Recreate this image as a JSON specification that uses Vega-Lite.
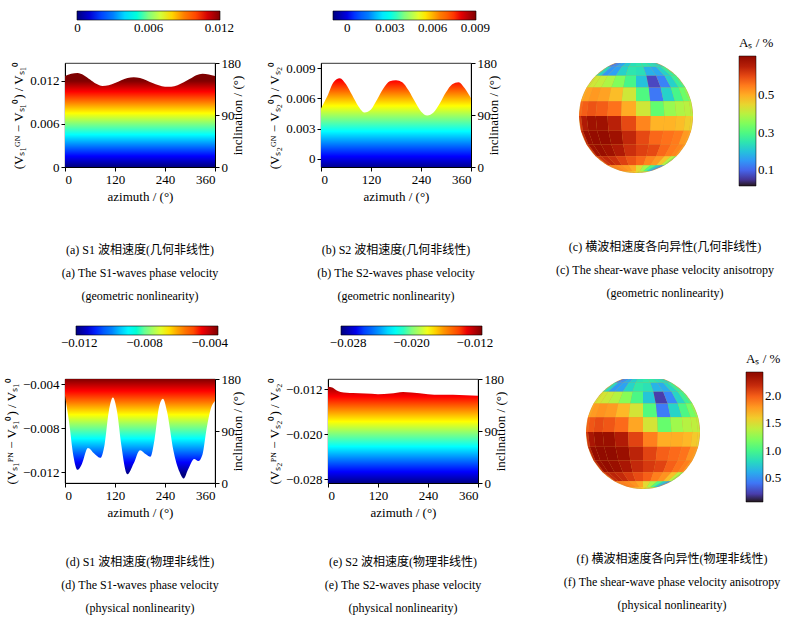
{
  "$schema": "https://vega.github.io/schema/vega-lite/v6.json",
  "padding": {"top": 10, "left": 5, "right": 5, "bottom": 5},
  "spacing": 22,
  "resolve": {"scale": {"color": "independent"}, "legend": {"color": "independent"}},
  "config": {
    "font": "Liberation Serif",
    "view": {"stroke": "#000", "strokeWidth": 0.8},
    "axis": {"grid": false, "domainColor": "#000", "tickColor": "#000", "labelColor": "#000", "titleColor": "#000", "labelFont": "Liberation Serif", "titleFont": "Liberation Serif", "labelFontSize": 13, "titleFontSize": 13, "titleFontWeight": "normal", "tickSize": 4},
    "legend": {"labelFont": "Liberation Serif", "labelFontSize": 13, "labelColor": "#000", "titleFont": "Liberation Serif", "titleFontSize": 13, "titleFontWeight": "normal", "titleColor": "#000", "labelOverlap": false},
    "title": {"font": "Liberation Serif, Noto Sans CJK SC", "fontSize": 12, "fontWeight": "normal", "color": "#000", "lineHeight": 23, "orient": "bottom", "anchor": "middle", "frame": "group"}
  },
  "datasets": {
    "sphere": [
      {"type":"Feature","properties":{"c":0.17,"f":0.60},"geometry":{"type":"Polygon","coordinates":[[[-90,75],[-90,90],[-75,90],[-75,75],[-90,75]]]}},
      {"type":"Feature","properties":{"c":0.18,"f":0.63},"geometry":{"type":"Polygon","coordinates":[[[-75,75],[-75,90],[-60,90],[-60,75],[-75,75]]]}},
      {"type":"Feature","properties":{"c":0.19,"f":0.67},"geometry":{"type":"Polygon","coordinates":[[[-60,75],[-60,90],[-45,90],[-45,75],[-60,75]]]}},
      {"type":"Feature","properties":{"c":0.21,"f":0.74},"geometry":{"type":"Polygon","coordinates":[[[-45,75],[-45,90],[-30,90],[-30,75],[-45,75]]]}},
      {"type":"Feature","properties":{"c":0.22,"f":0.77},"geometry":{"type":"Polygon","coordinates":[[[-30,75],[-30,90],[-15,90],[-15,75],[-30,75]]]}},
      {"type":"Feature","properties":{"c":0.24,"f":0.84},"geometry":{"type":"Polygon","coordinates":[[[-15,75],[-15,90],[0,90],[0,75],[-15,75]]]}},
      {"type":"Feature","properties":{"c":0.25,"f":0.88},"geometry":{"type":"Polygon","coordinates":[[[0,75],[0,90],[15,90],[15,75],[0,75]]]}},
      {"type":"Feature","properties":{"c":0.25,"f":0.88},"geometry":{"type":"Polygon","coordinates":[[[15,75],[15,90],[30,90],[30,75],[15,75]]]}},
      {"type":"Feature","properties":{"c":0.25,"f":0.88},"geometry":{"type":"Polygon","coordinates":[[[30,75],[30,90],[45,90],[45,75],[30,75]]]}},
      {"type":"Feature","properties":{"c":0.25,"f":0.88},"geometry":{"type":"Polygon","coordinates":[[[45,75],[45,90],[60,90],[60,75],[45,75]]]}},
      {"type":"Feature","properties":{"c":0.24,"f":0.84},"geometry":{"type":"Polygon","coordinates":[[[60,75],[60,90],[75,90],[75,75],[60,75]]]}},
      {"type":"Feature","properties":{"c":0.24,"f":0.84},"geometry":{"type":"Polygon","coordinates":[[[75,75],[75,90],[90,90],[90,75],[75,75]]]}},
      {"type":"Feature","properties":{"c":0.11,"f":0.39},"geometry":{"type":"Polygon","coordinates":[[[-90,60],[-90,75],[-75,75],[-75,60],[-90,60]]]}},
      {"type":"Feature","properties":{"c":0.12,"f":0.42},"geometry":{"type":"Polygon","coordinates":[[[-75,60],[-75,75],[-60,75],[-60,60],[-75,60]]]}},
      {"type":"Feature","properties":{"c":0.14,"f":0.49},"geometry":{"type":"Polygon","coordinates":[[[-60,60],[-60,75],[-45,75],[-45,60],[-60,60]]]}},
      {"type":"Feature","properties":{"c":0.17,"f":0.60},"geometry":{"type":"Polygon","coordinates":[[[-45,60],[-45,75],[-30,75],[-30,60],[-45,60]]]}},
      {"type":"Feature","properties":{"c":0.21,"f":0.74},"geometry":{"type":"Polygon","coordinates":[[[-30,60],[-30,75],[-15,75],[-15,60],[-30,60]]]}},
      {"type":"Feature","properties":{"c":0.24,"f":0.84},"geometry":{"type":"Polygon","coordinates":[[[-15,60],[-15,75],[0,75],[0,60],[-15,60]]]}},
      {"type":"Feature","properties":{"c":0.25,"f":0.88},"geometry":{"type":"Polygon","coordinates":[[[0,60],[0,75],[15,75],[15,60],[0,60]]]}},
      {"type":"Feature","properties":{"c":0.25,"f":0.88},"geometry":{"type":"Polygon","coordinates":[[[15,60],[15,75],[30,75],[30,60],[15,60]]]}},
      {"type":"Feature","properties":{"c":0.24,"f":0.84},"geometry":{"type":"Polygon","coordinates":[[[30,60],[30,75],[45,75],[45,60],[30,60]]]}},
      {"type":"Feature","properties":{"c":0.23,"f":0.81},"geometry":{"type":"Polygon","coordinates":[[[45,60],[45,75],[60,75],[60,60],[45,60]]]}},
      {"type":"Feature","properties":{"c":0.22,"f":0.77},"geometry":{"type":"Polygon","coordinates":[[[60,60],[60,75],[75,75],[75,60],[60,60]]]}},
      {"type":"Feature","properties":{"c":0.21,"f":0.74},"geometry":{"type":"Polygon","coordinates":[[[75,60],[75,75],[90,75],[90,60],[75,60]]]}},
      {"type":"Feature","properties":{"c":0.25,"f":0.88},"geometry":{"type":"Polygon","coordinates":[[[-90,45],[-90,60],[-75,60],[-75,45],[-90,45]]]}},
      {"type":"Feature","properties":{"c":0.22,"f":0.77},"geometry":{"type":"Polygon","coordinates":[[[-75,45],[-75,60],[-60,60],[-60,45],[-75,45]]]}},
      {"type":"Feature","properties":{"c":0.15,"f":0.53},"geometry":{"type":"Polygon","coordinates":[[[-60,45],[-60,60],[-45,60],[-45,45],[-60,45]]]}},
      {"type":"Feature","properties":{"c":0.16,"f":0.56},"geometry":{"type":"Polygon","coordinates":[[[-45,45],[-45,60],[-30,60],[-30,45],[-45,45]]]}},
      {"type":"Feature","properties":{"c":0.22,"f":0.77},"geometry":{"type":"Polygon","coordinates":[[[-30,45],[-30,60],[-15,60],[-15,45],[-30,45]]]}},
      {"type":"Feature","properties":{"c":0.25,"f":0.88},"geometry":{"type":"Polygon","coordinates":[[[-15,45],[-15,60],[0,60],[0,45],[-15,45]]]}},
      {"type":"Feature","properties":{"c":0.24,"f":0.84},"geometry":{"type":"Polygon","coordinates":[[[0,45],[0,60],[15,60],[15,45],[0,45]]]}},
      {"type":"Feature","properties":{"c":0.18,"f":0.63},"geometry":{"type":"Polygon","coordinates":[[[15,45],[15,60],[30,60],[30,45],[15,45]]]}},
      {"type":"Feature","properties":{"c":0.17,"f":0.60},"geometry":{"type":"Polygon","coordinates":[[[30,45],[30,60],[45,60],[45,45],[30,45]]]}},
      {"type":"Feature","properties":{"c":0.22,"f":0.77},"geometry":{"type":"Polygon","coordinates":[[[45,45],[45,60],[60,60],[60,45],[45,45]]]}},
      {"type":"Feature","properties":{"c":0.26,"f":0.91},"geometry":{"type":"Polygon","coordinates":[[[60,45],[60,60],[75,60],[75,45],[60,45]]]}},
      {"type":"Feature","properties":{"c":0.28,"f":0.98},"geometry":{"type":"Polygon","coordinates":[[[75,45],[75,60],[90,60],[90,45],[75,45]]]}},
      {"type":"Feature","properties":{"c":0.42,"f":1.47},"geometry":{"type":"Polygon","coordinates":[[[-90,30],[-90,45],[-75,45],[-75,30],[-90,30]]]}},
      {"type":"Feature","properties":{"c":0.42,"f":1.47},"geometry":{"type":"Polygon","coordinates":[[[-75,30],[-75,45],[-60,45],[-60,30],[-75,30]]]}},
      {"type":"Feature","properties":{"c":0.41,"f":1.44},"geometry":{"type":"Polygon","coordinates":[[[-60,30],[-60,45],[-45,45],[-45,30],[-60,30]]]}},
      {"type":"Feature","properties":{"c":0.39,"f":1.37},"geometry":{"type":"Polygon","coordinates":[[[-45,30],[-45,45],[-30,45],[-30,30],[-45,30]]]}},
      {"type":"Feature","properties":{"c":0.35,"f":1.23},"geometry":{"type":"Polygon","coordinates":[[[-30,30],[-30,45],[-15,45],[-15,30],[-30,30]]]}},
      {"type":"Feature","properties":{"c":0.29,"f":1.02},"geometry":{"type":"Polygon","coordinates":[[[-15,30],[-15,45],[0,45],[0,30],[-15,30]]]}},
      {"type":"Feature","properties":{"c":0.20,"f":0.70},"geometry":{"type":"Polygon","coordinates":[[[0,30],[0,45],[15,45],[15,30],[0,30]]]}},
      {"type":"Feature","properties":{"c":0.07,"f":0.20},"geometry":{"type":"Polygon","coordinates":[[[15,30],[15,45],[30,45],[30,30],[15,30]]]}},
      {"type":"Feature","properties":{"c":0.13,"f":0.46},"geometry":{"type":"Polygon","coordinates":[[[30,30],[30,45],[45,45],[45,30],[30,30]]]}},
      {"type":"Feature","properties":{"c":0.22,"f":0.77},"geometry":{"type":"Polygon","coordinates":[[[45,30],[45,45],[60,45],[60,30],[45,30]]]}},
      {"type":"Feature","properties":{"c":0.27,"f":0.95},"geometry":{"type":"Polygon","coordinates":[[[60,30],[60,45],[75,45],[75,30],[60,30]]]}},
      {"type":"Feature","properties":{"c":0.29,"f":1.02},"geometry":{"type":"Polygon","coordinates":[[[75,30],[75,45],[90,45],[90,30],[75,30]]]}},
      {"type":"Feature","properties":{"c":0.50,"f":1.75},"geometry":{"type":"Polygon","coordinates":[[[-90,15],[-90,30],[-75,30],[-75,15],[-90,15]]]}},
      {"type":"Feature","properties":{"c":0.51,"f":1.79},"geometry":{"type":"Polygon","coordinates":[[[-75,15],[-75,30],[-60,30],[-60,15],[-75,15]]]}},
      {"type":"Feature","properties":{"c":0.52,"f":1.82},"geometry":{"type":"Polygon","coordinates":[[[-60,15],[-60,30],[-45,30],[-45,15],[-60,15]]]}},
      {"type":"Feature","properties":{"c":0.51,"f":1.79},"geometry":{"type":"Polygon","coordinates":[[[-45,15],[-45,30],[-30,30],[-30,15],[-45,15]]]}},
      {"type":"Feature","properties":{"c":0.48,"f":1.68},"geometry":{"type":"Polygon","coordinates":[[[-30,15],[-30,30],[-15,30],[-15,15],[-30,15]]]}},
      {"type":"Feature","properties":{"c":0.42,"f":1.47},"geometry":{"type":"Polygon","coordinates":[[[-15,15],[-15,30],[0,30],[0,15],[-15,15]]]}},
      {"type":"Feature","properties":{"c":0.30,"f":1.05},"geometry":{"type":"Polygon","coordinates":[[[0,15],[0,30],[15,30],[15,15],[0,15]]]}},
      {"type":"Feature","properties":{"c":0.12,"f":0.42},"geometry":{"type":"Polygon","coordinates":[[[15,15],[15,30],[30,30],[30,15],[15,15]]]}},
      {"type":"Feature","properties":{"c":0.22,"f":0.77},"geometry":{"type":"Polygon","coordinates":[[[30,15],[30,30],[45,30],[45,15],[30,15]]]}},
      {"type":"Feature","properties":{"c":0.29,"f":1.02},"geometry":{"type":"Polygon","coordinates":[[[45,15],[45,30],[60,30],[60,15],[45,15]]]}},
      {"type":"Feature","properties":{"c":0.33,"f":1.16},"geometry":{"type":"Polygon","coordinates":[[[60,15],[60,30],[75,30],[75,15],[60,15]]]}},
      {"type":"Feature","properties":{"c":0.35,"f":1.23},"geometry":{"type":"Polygon","coordinates":[[[75,15],[75,30],[90,30],[90,15],[75,15]]]}},
      {"type":"Feature","properties":{"c":0.57,"f":2.00},"geometry":{"type":"Polygon","coordinates":[[[-90,0],[-90,15],[-75,15],[-75,0],[-90,0]]]}},
      {"type":"Feature","properties":{"c":0.58,"f":2.03},"geometry":{"type":"Polygon","coordinates":[[[-75,0],[-75,15],[-60,15],[-60,0],[-75,0]]]}},
      {"type":"Feature","properties":{"c":0.59,"f":2.07},"geometry":{"type":"Polygon","coordinates":[[[-60,0],[-60,15],[-45,15],[-45,0],[-60,0]]]}},
      {"type":"Feature","properties":{"c":0.58,"f":2.03},"geometry":{"type":"Polygon","coordinates":[[[-45,0],[-45,15],[-30,15],[-30,0],[-45,0]]]}},
      {"type":"Feature","properties":{"c":0.56,"f":1.96},"geometry":{"type":"Polygon","coordinates":[[[-30,0],[-30,15],[-15,15],[-15,0],[-30,0]]]}},
      {"type":"Feature","properties":{"c":0.50,"f":1.75},"geometry":{"type":"Polygon","coordinates":[[[-15,0],[-15,15],[0,15],[0,0],[-15,0]]]}},
      {"type":"Feature","properties":{"c":0.42,"f":1.47},"geometry":{"type":"Polygon","coordinates":[[[0,0],[0,15],[15,15],[15,0],[0,0]]]}},
      {"type":"Feature","properties":{"c":0.32,"f":1.12},"geometry":{"type":"Polygon","coordinates":[[[15,0],[15,15],[30,15],[30,0],[15,0]]]}},
      {"type":"Feature","properties":{"c":0.37,"f":1.30},"geometry":{"type":"Polygon","coordinates":[[[30,0],[30,15],[45,15],[45,0],[30,0]]]}},
      {"type":"Feature","properties":{"c":0.39,"f":1.37},"geometry":{"type":"Polygon","coordinates":[[[45,0],[45,15],[60,15],[60,0],[45,0]]]}},
      {"type":"Feature","properties":{"c":0.40,"f":1.40},"geometry":{"type":"Polygon","coordinates":[[[60,0],[60,15],[75,15],[75,0],[60,0]]]}},
      {"type":"Feature","properties":{"c":0.40,"f":1.40},"geometry":{"type":"Polygon","coordinates":[[[75,0],[75,15],[90,15],[90,0],[75,0]]]}},
      {"type":"Feature","properties":{"c":0.62,"f":2.17},"geometry":{"type":"Polygon","coordinates":[[[-90,-15],[-90,0],[-75,0],[-75,-15],[-90,-15]]]}},
      {"type":"Feature","properties":{"c":0.66,"f":2.31},"geometry":{"type":"Polygon","coordinates":[[[-75,-15],[-75,0],[-60,0],[-60,-15],[-75,-15]]]}},
      {"type":"Feature","properties":{"c":0.68,"f":2.38},"geometry":{"type":"Polygon","coordinates":[[[-60,-15],[-60,0],[-45,0],[-45,-15],[-60,-15]]]}},
      {"type":"Feature","properties":{"c":0.68,"f":2.38},"geometry":{"type":"Polygon","coordinates":[[[-45,-15],[-45,0],[-30,0],[-30,-15],[-45,-15]]]}},
      {"type":"Feature","properties":{"c":0.65,"f":2.28},"geometry":{"type":"Polygon","coordinates":[[[-30,-15],[-30,0],[-15,0],[-15,-15],[-30,-15]]]}},
      {"type":"Feature","properties":{"c":0.60,"f":2.10},"geometry":{"type":"Polygon","coordinates":[[[-15,-15],[-15,0],[0,0],[0,-15],[-15,-15]]]}},
      {"type":"Feature","properties":{"c":0.54,"f":1.89},"geometry":{"type":"Polygon","coordinates":[[[0,-15],[0,0],[15,0],[15,-15],[0,-15]]]}},
      {"type":"Feature","properties":{"c":0.49,"f":1.72},"geometry":{"type":"Polygon","coordinates":[[[15,-15],[15,0],[30,0],[30,-15],[15,-15]]]}},
      {"type":"Feature","properties":{"c":0.49,"f":1.72},"geometry":{"type":"Polygon","coordinates":[[[30,-15],[30,0],[45,0],[45,-15],[30,-15]]]}},
      {"type":"Feature","properties":{"c":0.48,"f":1.68},"geometry":{"type":"Polygon","coordinates":[[[45,-15],[45,0],[60,0],[60,-15],[45,-15]]]}},
      {"type":"Feature","properties":{"c":0.46,"f":1.61},"geometry":{"type":"Polygon","coordinates":[[[60,-15],[60,0],[75,0],[75,-15],[60,-15]]]}},
      {"type":"Feature","properties":{"c":0.45,"f":1.58},"geometry":{"type":"Polygon","coordinates":[[[75,-15],[75,0],[90,0],[90,-15],[75,-15]]]}},
      {"type":"Feature","properties":{"c":0.64,"f":2.24},"geometry":{"type":"Polygon","coordinates":[[[-90,-30],[-90,-15],[-75,-15],[-75,-30],[-90,-30]]]}},
      {"type":"Feature","properties":{"c":0.69,"f":2.42},"geometry":{"type":"Polygon","coordinates":[[[-75,-30],[-75,-15],[-60,-15],[-60,-30],[-75,-30]]]}},
      {"type":"Feature","properties":{"c":0.70,"f":2.45},"geometry":{"type":"Polygon","coordinates":[[[-60,-30],[-60,-15],[-45,-15],[-45,-30],[-60,-30]]]}},
      {"type":"Feature","properties":{"c":0.70,"f":2.45},"geometry":{"type":"Polygon","coordinates":[[[-45,-30],[-45,-15],[-30,-15],[-30,-30],[-45,-30]]]}},
      {"type":"Feature","properties":{"c":0.68,"f":2.38},"geometry":{"type":"Polygon","coordinates":[[[-30,-30],[-30,-15],[-15,-15],[-15,-30],[-30,-30]]]}},
      {"type":"Feature","properties":{"c":0.64,"f":2.24},"geometry":{"type":"Polygon","coordinates":[[[-15,-30],[-15,-15],[0,-15],[0,-30],[-15,-30]]]}},
      {"type":"Feature","properties":{"c":0.60,"f":2.10},"geometry":{"type":"Polygon","coordinates":[[[0,-30],[0,-15],[15,-15],[15,-30],[0,-30]]]}},
      {"type":"Feature","properties":{"c":0.57,"f":2.00},"geometry":{"type":"Polygon","coordinates":[[[15,-30],[15,-15],[30,-15],[30,-30],[15,-30]]]}},
      {"type":"Feature","properties":{"c":0.56,"f":1.96},"geometry":{"type":"Polygon","coordinates":[[[30,-30],[30,-15],[45,-15],[45,-30],[30,-30]]]}},
      {"type":"Feature","properties":{"c":0.55,"f":1.93},"geometry":{"type":"Polygon","coordinates":[[[45,-30],[45,-15],[60,-15],[60,-30],[45,-30]]]}},
      {"type":"Feature","properties":{"c":0.52,"f":1.82},"geometry":{"type":"Polygon","coordinates":[[[60,-30],[60,-15],[75,-15],[75,-30],[60,-30]]]}},
      {"type":"Feature","properties":{"c":0.51,"f":1.79},"geometry":{"type":"Polygon","coordinates":[[[75,-30],[75,-15],[90,-15],[90,-30],[75,-30]]]}},
      {"type":"Feature","properties":{"c":0.63,"f":2.21},"geometry":{"type":"Polygon","coordinates":[[[-90,-45],[-90,-30],[-75,-30],[-75,-45],[-90,-45]]]}},
      {"type":"Feature","properties":{"c":0.68,"f":2.38},"geometry":{"type":"Polygon","coordinates":[[[-75,-45],[-75,-30],[-60,-30],[-60,-45],[-75,-45]]]}},
      {"type":"Feature","properties":{"c":0.69,"f":2.42},"geometry":{"type":"Polygon","coordinates":[[[-60,-45],[-60,-30],[-45,-30],[-45,-45],[-60,-45]]]}},
      {"type":"Feature","properties":{"c":0.68,"f":2.38},"geometry":{"type":"Polygon","coordinates":[[[-45,-45],[-45,-30],[-30,-30],[-30,-45],[-45,-45]]]}},
      {"type":"Feature","properties":{"c":0.66,"f":2.31},"geometry":{"type":"Polygon","coordinates":[[[-30,-45],[-30,-30],[-15,-30],[-15,-45],[-30,-45]]]}},
      {"type":"Feature","properties":{"c":0.63,"f":2.21},"geometry":{"type":"Polygon","coordinates":[[[-15,-45],[-15,-30],[0,-30],[0,-45],[-15,-45]]]}},
      {"type":"Feature","properties":{"c":0.61,"f":2.14},"geometry":{"type":"Polygon","coordinates":[[[0,-45],[0,-30],[15,-30],[15,-45],[0,-45]]]}},
      {"type":"Feature","properties":{"c":0.60,"f":2.10},"geometry":{"type":"Polygon","coordinates":[[[15,-45],[15,-30],[30,-30],[30,-45],[15,-45]]]}},
      {"type":"Feature","properties":{"c":0.57,"f":2.00},"geometry":{"type":"Polygon","coordinates":[[[30,-45],[30,-30],[45,-30],[45,-45],[30,-45]]]}},
      {"type":"Feature","properties":{"c":0.55,"f":1.93},"geometry":{"type":"Polygon","coordinates":[[[45,-45],[45,-30],[60,-30],[60,-45],[45,-45]]]}},
      {"type":"Feature","properties":{"c":0.54,"f":1.89},"geometry":{"type":"Polygon","coordinates":[[[60,-45],[60,-30],[75,-30],[75,-45],[60,-45]]]}},
      {"type":"Feature","properties":{"c":0.52,"f":1.82},"geometry":{"type":"Polygon","coordinates":[[[75,-45],[75,-30],[90,-30],[90,-45],[75,-45]]]}},
      {"type":"Feature","properties":{"c":0.60,"f":2.10},"geometry":{"type":"Polygon","coordinates":[[[-90,-60],[-90,-45],[-75,-45],[-75,-60],[-90,-60]]]}},
      {"type":"Feature","properties":{"c":0.63,"f":2.21},"geometry":{"type":"Polygon","coordinates":[[[-75,-60],[-75,-45],[-60,-45],[-60,-60],[-75,-60]]]}},
      {"type":"Feature","properties":{"c":0.64,"f":2.24},"geometry":{"type":"Polygon","coordinates":[[[-60,-60],[-60,-45],[-45,-45],[-45,-60],[-60,-60]]]}},
      {"type":"Feature","properties":{"c":0.63,"f":2.21},"geometry":{"type":"Polygon","coordinates":[[[-45,-60],[-45,-45],[-30,-45],[-30,-60],[-45,-60]]]}},
      {"type":"Feature","properties":{"c":0.61,"f":2.14},"geometry":{"type":"Polygon","coordinates":[[[-30,-60],[-30,-45],[-15,-45],[-15,-60],[-30,-60]]]}},
      {"type":"Feature","properties":{"c":0.59,"f":2.07},"geometry":{"type":"Polygon","coordinates":[[[-15,-60],[-15,-45],[0,-45],[0,-60],[-15,-60]]]}},
      {"type":"Feature","properties":{"c":0.57,"f":2.00},"geometry":{"type":"Polygon","coordinates":[[[0,-60],[0,-45],[15,-45],[15,-60],[0,-60]]]}},
      {"type":"Feature","properties":{"c":0.54,"f":1.89},"geometry":{"type":"Polygon","coordinates":[[[15,-60],[15,-45],[30,-45],[30,-60],[15,-60]]]}},
      {"type":"Feature","properties":{"c":0.52,"f":1.82},"geometry":{"type":"Polygon","coordinates":[[[30,-60],[30,-45],[45,-45],[45,-60],[30,-60]]]}},
      {"type":"Feature","properties":{"c":0.47,"f":1.65},"geometry":{"type":"Polygon","coordinates":[[[45,-60],[45,-45],[60,-45],[60,-60],[45,-60]]]}},
      {"type":"Feature","properties":{"c":0.40,"f":1.40},"geometry":{"type":"Polygon","coordinates":[[[60,-60],[60,-45],[75,-45],[75,-60],[60,-60]]]}},
      {"type":"Feature","properties":{"c":0.33,"f":1.16},"geometry":{"type":"Polygon","coordinates":[[[75,-60],[75,-45],[90,-45],[90,-60],[75,-60]]]}},
      {"type":"Feature","properties":{"c":0.55,"f":1.93},"geometry":{"type":"Polygon","coordinates":[[[-90,-75],[-90,-60],[-75,-60],[-75,-75],[-90,-75]]]}},
      {"type":"Feature","properties":{"c":0.55,"f":1.93},"geometry":{"type":"Polygon","coordinates":[[[-75,-75],[-75,-60],[-60,-60],[-60,-75],[-75,-75]]]}},
      {"type":"Feature","properties":{"c":0.54,"f":1.89},"geometry":{"type":"Polygon","coordinates":[[[-60,-75],[-60,-60],[-45,-60],[-45,-75],[-60,-75]]]}},
      {"type":"Feature","properties":{"c":0.53,"f":1.86},"geometry":{"type":"Polygon","coordinates":[[[-45,-75],[-45,-60],[-30,-60],[-30,-75],[-45,-75]]]}},
      {"type":"Feature","properties":{"c":0.52,"f":1.82},"geometry":{"type":"Polygon","coordinates":[[[-30,-75],[-30,-60],[-15,-60],[-15,-75],[-30,-75]]]}},
      {"type":"Feature","properties":{"c":0.50,"f":1.75},"geometry":{"type":"Polygon","coordinates":[[[-15,-75],[-15,-60],[0,-60],[0,-75],[-15,-75]]]}},
      {"type":"Feature","properties":{"c":0.44,"f":1.54},"geometry":{"type":"Polygon","coordinates":[[[0,-75],[0,-60],[15,-60],[15,-75],[0,-75]]]}},
      {"type":"Feature","properties":{"c":0.38,"f":1.33},"geometry":{"type":"Polygon","coordinates":[[[15,-75],[15,-60],[30,-60],[30,-75],[15,-75]]]}},
      {"type":"Feature","properties":{"c":0.30,"f":1.05},"geometry":{"type":"Polygon","coordinates":[[[30,-75],[30,-60],[45,-60],[45,-75],[30,-75]]]}},
      {"type":"Feature","properties":{"c":0.22,"f":0.77},"geometry":{"type":"Polygon","coordinates":[[[45,-75],[45,-60],[60,-60],[60,-75],[45,-75]]]}},
      {"type":"Feature","properties":{"c":0.16,"f":0.56},"geometry":{"type":"Polygon","coordinates":[[[60,-75],[60,-60],[75,-60],[75,-75],[60,-75]]]}},
      {"type":"Feature","properties":{"c":0.13,"f":0.46},"geometry":{"type":"Polygon","coordinates":[[[75,-75],[75,-60],[90,-60],[90,-75],[75,-75]]]}},
      {"type":"Feature","properties":{"c":0.50,"f":1.75},"geometry":{"type":"Polygon","coordinates":[[[-90,-90],[-90,-75],[-75,-75],[-75,-90],[-90,-90]]]}},
      {"type":"Feature","properties":{"c":0.50,"f":1.75},"geometry":{"type":"Polygon","coordinates":[[[-75,-90],[-75,-75],[-60,-75],[-60,-90],[-75,-90]]]}},
      {"type":"Feature","properties":{"c":0.49,"f":1.72},"geometry":{"type":"Polygon","coordinates":[[[-60,-90],[-60,-75],[-45,-75],[-45,-90],[-60,-90]]]}},
      {"type":"Feature","properties":{"c":0.49,"f":1.72},"geometry":{"type":"Polygon","coordinates":[[[-45,-90],[-45,-75],[-30,-75],[-30,-90],[-45,-90]]]}},
      {"type":"Feature","properties":{"c":0.48,"f":1.68},"geometry":{"type":"Polygon","coordinates":[[[-30,-90],[-30,-75],[-15,-75],[-15,-90],[-30,-90]]]}},
      {"type":"Feature","properties":{"c":0.47,"f":1.65},"geometry":{"type":"Polygon","coordinates":[[[-15,-90],[-15,-75],[0,-75],[0,-90],[-15,-90]]]}},
      {"type":"Feature","properties":{"c":0.45,"f":1.58},"geometry":{"type":"Polygon","coordinates":[[[0,-90],[0,-75],[15,-75],[15,-90],[0,-90]]]}},
      {"type":"Feature","properties":{"c":0.43,"f":1.51},"geometry":{"type":"Polygon","coordinates":[[[15,-90],[15,-75],[30,-75],[30,-90],[15,-90]]]}},
      {"type":"Feature","properties":{"c":0.40,"f":1.40},"geometry":{"type":"Polygon","coordinates":[[[30,-90],[30,-75],[45,-75],[45,-90],[30,-90]]]}},
      {"type":"Feature","properties":{"c":0.37,"f":1.30},"geometry":{"type":"Polygon","coordinates":[[[45,-90],[45,-75],[60,-75],[60,-90],[45,-90]]]}},
      {"type":"Feature","properties":{"c":0.34,"f":1.19},"geometry":{"type":"Polygon","coordinates":[[[60,-90],[60,-75],[75,-75],[75,-90],[60,-90]]]}},
      {"type":"Feature","properties":{"c":0.32,"f":1.12},"geometry":{"type":"Polygon","coordinates":[[[75,-90],[75,-75],[90,-75],[90,-90],[75,-90]]]}}
    ]
  },
  "vconcat": [
    {
      "spacing": 23,
      "resolve": {"scale": {"color": "independent"}, "legend": {"color": "independent"}},
      "hconcat": [
        {
          "width": 150,
          "height": 104,
          "title": {"text": ["(a) S1 波相速度(几何非线性)", "(a) The S1-waves phase velocity", "(geometric nonlinearity)"], "offset": 42},
          "layer": [
            {
              "data": {"values": [
                {"azimuth": 0, "dv": 0.0127}, {"azimuth": 15, "dv": 0.0130}, {"azimuth": 30, "dv": 0.0131}, {"azimuth": 45, "dv": 0.0128},
                {"azimuth": 60, "dv": 0.0122}, {"azimuth": 75, "dv": 0.0116}, {"azimuth": 90, "dv": 0.0113}, {"azimuth": 105, "dv": 0.0114},
                {"azimuth": 120, "dv": 0.0117}, {"azimuth": 135, "dv": 0.0121}, {"azimuth": 150, "dv": 0.0124}, {"azimuth": 165, "dv": 0.0125},
                {"azimuth": 180, "dv": 0.0124}, {"azimuth": 195, "dv": 0.0121}, {"azimuth": 210, "dv": 0.0117}, {"azimuth": 225, "dv": 0.0114},
                {"azimuth": 240, "dv": 0.0112}, {"azimuth": 255, "dv": 0.0112}, {"azimuth": 270, "dv": 0.0114}, {"azimuth": 285, "dv": 0.0118},
                {"azimuth": 300, "dv": 0.0123}, {"azimuth": 315, "dv": 0.0128}, {"azimuth": 330, "dv": 0.0130}, {"azimuth": 345, "dv": 0.0129},
                {"azimuth": 360, "dv": 0.0127}
              ]},
              "mark": {"type": "area", "interpolate": "monotone", "color": {"gradient": "linear", "x1": 0, "y1": 1, "x2": 0, "y2": 0, "stops": [
                {"offset": 0, "color": "#00007f"}, {"offset": 0.115, "color": "#0000ff"}, {"offset": 0.229, "color": "#007fff"},
                {"offset": 0.344, "color": "#00ffff"}, {"offset": 0.458, "color": "#7fff7f"}, {"offset": 0.573, "color": "#ffff00"},
                {"offset": 0.687, "color": "#ff7f00"}, {"offset": 0.802, "color": "#ff0000"}, {"offset": 0.916, "color": "#7f0000"},
                {"offset": 1, "color": "#7f0000"}]}},
              "encoding": {
                "x": {"field": "azimuth", "type": "quantitative", "scale": {"domain": [0, 360], "nice": false}, "axis": {"values": [0, 120, 240, 360], "title": "azimuth / (°)"}},
                "y": {"field": "dv", "type": "quantitative", "scale": {"domain": [0, 0.0145], "nice": false, "zero": false}, "axis": {"orient": "left", "values": [0, 0.006, 0.012], "format": ".3~f", "title": "(Vₛ₁ᴳᴺ − Vₛ₁⁰) / Vₛ₁⁰"}},
                "y2": {"datum": 0}
              }
            },
            {
              "data": {"values": [{"inclination": 0, "v": 0}, {"inclination": 180, "v": 0.012}]},
              "mark": {"type": "point", "opacity": 0},
              "encoding": {
                "y": {"field": "inclination", "type": "quantitative", "scale": {"domain": [0, 180], "nice": false}, "axis": {"orient": "right", "values": [0, 90, 180], "title": "inclination / (°)", "titleAngle": 270}},
                "color": {"field": "v", "type": "quantitative",
                  "scale": {"domain": [-0.00005, 0.0015, 0.003, 0.0045, 0.006, 0.0075, 0.009, 0.0105, 0.01205], "range": ["#00007f", "#0000ff", "#007fff", "#00ffff", "#7fff7f", "#ffff00", "#ff7f00", "#ff0000", "#7f0000"]},
                  "legend": {"type": "gradient", "orient": "none", "direction": "horizontal", "legendX": 12, "legendY": -52, "gradientLength": 143, "gradientThickness": 9, "values": [0, 0.006, 0.012], "format": ".3~f", "title": null, "gradientStrokeColor": "#000", "gradientStrokeWidth": 0.6}}
              }
            }
          ],
          "resolve": {"scale": {"y": "independent"}}
        },
        {
          "width": 150,
          "height": 104,
          "title": {"text": ["(b) S2 波相速度(几何非线性)", "(b) The S2-waves phase velocity", "(geometric nonlinearity)"], "offset": 42},
          "layer": [
            {
              "data": {"values": [
                {"azimuth": 0, "dv": 0.0050}, {"azimuth": 15, "dv": 0.0062}, {"azimuth": 30, "dv": 0.0076}, {"azimuth": 45, "dv": 0.0080},
                {"azimuth": 60, "dv": 0.0074}, {"azimuth": 75, "dv": 0.0063}, {"azimuth": 90, "dv": 0.0052}, {"azimuth": 105, "dv": 0.0046},
                {"azimuth": 120, "dv": 0.0049}, {"azimuth": 135, "dv": 0.0059}, {"azimuth": 150, "dv": 0.0070}, {"azimuth": 165, "dv": 0.0077},
                {"azimuth": 180, "dv": 0.0078}, {"azimuth": 195, "dv": 0.0076}, {"azimuth": 210, "dv": 0.0068}, {"azimuth": 225, "dv": 0.0057},
                {"azimuth": 240, "dv": 0.0047}, {"azimuth": 255, "dv": 0.0043}, {"azimuth": 270, "dv": 0.0046}, {"azimuth": 285, "dv": 0.0055},
                {"azimuth": 300, "dv": 0.0066}, {"azimuth": 315, "dv": 0.0074}, {"azimuth": 330, "dv": 0.0076}, {"azimuth": 345, "dv": 0.0070},
                {"azimuth": 360, "dv": 0.0060}
              ]},
              "mark": {"type": "area", "interpolate": "monotone", "color": {"gradient": "linear", "x1": 0, "y1": 1, "x2": 0, "y2": 0, "stops": [
                {"offset": 0, "color": "#000094"}, {"offset": 0.119, "color": "#0000ff"}, {"offset": 0.261, "color": "#007fff"},
                {"offset": 0.403, "color": "#00ffff"}, {"offset": 0.545, "color": "#7fff7f"}, {"offset": 0.688, "color": "#ffff00"},
                {"offset": 0.83, "color": "#ff7f00"}, {"offset": 0.972, "color": "#ff0000"}, {"offset": 1, "color": "#e50000"}]}},
              "encoding": {
                "x": {"field": "azimuth", "type": "quantitative", "scale": {"domain": [0, 360], "nice": false}, "axis": {"values": [0, 120, 240, 360], "title": "azimuth / (°)"}},
                "y": {"field": "dv", "type": "quantitative", "scale": {"domain": [-0.0008, 0.0095], "nice": false, "zero": false}, "axis": {"orient": "left", "values": [0, 0.003, 0.006, 0.009], "format": ".3~f", "title": "(Vₛ₂ᴳᴺ − Vₛ₂⁰) / Vₛ₂⁰"}},
                "y2": {"datum": -0.0008}
              }
            },
            {
              "data": {"values": [{"inclination": 0, "v": 0}, {"inclination": 180, "v": 0.009}]},
              "mark": {"type": "point", "opacity": 0},
              "encoding": {
                "y": {"field": "inclination", "type": "quantitative", "scale": {"domain": [0, 180], "nice": false}, "axis": {"orient": "right", "values": [0, 90, 180], "title": "inclination / (°)", "titleAngle": 270}},
                "color": {"field": "v", "type": "quantitative",
                  "scale": {"domain": [-0.001, 0.00025, 0.0015, 0.00275, 0.004, 0.00525, 0.0065, 0.00775, 0.00905], "range": ["#00007f", "#0000ff", "#007fff", "#00ffff", "#7fff7f", "#ffff00", "#ff7f00", "#ff0000", "#7f0000"]},
                  "legend": {"type": "gradient", "orient": "none", "direction": "horizontal", "legendX": 12, "legendY": -52, "gradientLength": 143, "gradientThickness": 9, "values": [0, 0.003, 0.006, 0.009], "format": ".3~f", "title": null, "gradientStrokeColor": "#000", "gradientStrokeWidth": 0.6}}
              }
            }
          ],
          "resolve": {"scale": {"y": "independent"}}
        },
        {
          "width": 210,
          "height": 125,
          "view": {"stroke": null},
          "title": {"text": ["(c) 横波相速度各向异性(几何非线性)", "(c) The shear-wave phase velocity anisotropy", "(geometric nonlinearity)"], "offset": 54, "dx": 36},
          "projection": {"type": "orthographic", "scale": 57, "translate": [112, 53]},
          "layer": [
            {
              "data": {"sphere": true},
              "mark": {"type": "geoshape", "fill": "#d8a040", "stroke": null},
              "encoding": {}
            },
            {
              "data": {"name": "sphere"},
              "mark": {"type": "geoshape", "stroke": null},
              "encoding": {
                "color": {"field": "properties.c", "type": "quantitative", "scale": {"scheme": "turbo", "domain": [0.017, 0.707]},
                  "legend": {"type": "gradient", "orient": "none", "legendX": 215, "legendY": -26, "direction": "vertical", "gradientLength": 130, "gradientThickness": 17, "values": [0.1, 0.3, 0.5], "format": ".1f", "title": "Aₛ / %", "titlePadding": 6, "gradientStrokeColor": "#000", "gradientStrokeWidth": 0.5}}
              }
            }
          ]
        }
      ]
    },
    {
      "spacing": 23,
      "resolve": {"scale": {"color": "independent"}, "legend": {"color": "independent"}},
      "hconcat": [
        {
          "width": 150,
          "height": 104,
          "title": {"text": ["(d) S1 波相速度(物理非线性)", "(d) The S1-waves phase velocity", "(physical nonlinearity)"], "offset": 38},
          "layer": [
            {
              "data": {"values": [
                {"azimuth": 0, "dv": -0.0050}, {"azimuth": 10, "dv": -0.0075}, {"azimuth": 20, "dv": -0.0105}, {"azimuth": 30, "dv": -0.0118},
                {"azimuth": 40, "dv": -0.0113}, {"azimuth": 55, "dv": -0.0098}, {"azimuth": 70, "dv": -0.0103}, {"azimuth": 85, "dv": -0.0107},
                {"azimuth": 95, "dv": -0.0095}, {"azimuth": 105, "dv": -0.0065}, {"azimuth": 115, "dv": -0.0052}, {"azimuth": 125, "dv": -0.0065},
                {"azimuth": 135, "dv": -0.0095}, {"azimuth": 150, "dv": -0.0122}, {"azimuth": 165, "dv": -0.0112}, {"azimuth": 180, "dv": -0.0100},
                {"azimuth": 195, "dv": -0.0104}, {"azimuth": 205, "dv": -0.0106}, {"azimuth": 215, "dv": -0.0090}, {"azimuth": 225, "dv": -0.0062},
                {"azimuth": 235, "dv": -0.0053}, {"azimuth": 245, "dv": -0.0065}, {"azimuth": 260, "dv": -0.0100}, {"azimuth": 275, "dv": -0.0120},
                {"azimuth": 285, "dv": -0.0126}, {"azimuth": 295, "dv": -0.0118}, {"azimuth": 310, "dv": -0.0108}, {"azimuth": 320, "dv": -0.0110},
                {"azimuth": 330, "dv": -0.0104}, {"azimuth": 340, "dv": -0.0080}, {"azimuth": 350, "dv": -0.0062}, {"azimuth": 360, "dv": -0.0055}
              ]},
              "mark": {"type": "area", "interpolate": "monotone", "color": {"gradient": "linear", "x1": 0, "y1": 1, "x2": 0, "y2": 0, "stops": [
                {"offset": 0, "color": "#00007f"}, {"offset": 0.044, "color": "#00007f"}, {"offset": 0.164, "color": "#0000ff"},
                {"offset": 0.282, "color": "#007fff"}, {"offset": 0.402, "color": "#00ffff"}, {"offset": 0.522, "color": "#7fff7f"},
                {"offset": 0.642, "color": "#ffff00"}, {"offset": 0.76, "color": "#ff7f00"}, {"offset": 0.88, "color": "#ff0000"},
                {"offset": 1, "color": "#7f0000"}]}},
              "encoding": {
                "x": {"field": "azimuth", "type": "quantitative", "scale": {"domain": [0, 360], "nice": false}, "axis": {"values": [0, 120, 240, 360], "title": "azimuth / (°)"}},
                "y": {"field": "dv", "type": "quantitative", "scale": {"domain": [-0.013, -0.0035], "nice": false, "zero": false}, "axis": {"orient": "left", "values": [-0.012, -0.008, -0.004], "format": ".3f", "title": "(Vₛ₁ᴾᴺ − Vₛ₁⁰) / Vₛ₁⁰"}},
                "y2": {"datum": -0.0035}
              }
            },
            {
              "data": {"values": [{"inclination": 0, "v": -0.012}, {"inclination": 180, "v": -0.004}]},
              "mark": {"type": "point", "opacity": 0},
              "encoding": {
                "y": {"field": "inclination", "type": "quantitative", "scale": {"domain": [0, 180], "nice": false}, "axis": {"orient": "right", "values": [0, 90, 180], "title": "inclination / (°)", "titleAngle": 270}},
                "color": {"field": "v", "type": "quantitative",
                  "scale": {"domain": [-0.0122, -0.01111, -0.01003, -0.00894, -0.00785, -0.00676, -0.00568, -0.00459, -0.0035], "range": ["#00007f", "#0000ff", "#007fff", "#00ffff", "#7fff7f", "#ffff00", "#ff7f00", "#ff0000", "#7f0000"]},
                  "legend": {"type": "gradient", "orient": "none", "direction": "horizontal", "legendX": 11, "legendY": -53, "gradientLength": 142, "gradientThickness": 9, "values": [-0.012, -0.008, -0.004], "format": ".3f", "title": null, "gradientStrokeColor": "#000", "gradientStrokeWidth": 0.6}}
              }
            }
          ],
          "resolve": {"scale": {"y": "independent"}}
        },
        {
          "width": 150,
          "height": 104,
          "title": {"text": ["(e) S2 波相速度(物理非线性)", "(e) The S2-waves phase velocity", "(physical nonlinearity)"], "offset": 38},
          "layer": [
            {
              "data": {"values": [
                {"azimuth": 0, "dv": -0.0116}, {"azimuth": 10, "dv": -0.0117}, {"azimuth": 20, "dv": -0.0122}, {"azimuth": 30, "dv": -0.0125},
                {"azimuth": 60, "dv": -0.0127}, {"azimuth": 90, "dv": -0.0128}, {"azimuth": 120, "dv": -0.0129}, {"azimuth": 150, "dv": -0.0128},
                {"azimuth": 180, "dv": -0.0125}, {"azimuth": 200, "dv": -0.0126}, {"azimuth": 240, "dv": -0.0129}, {"azimuth": 270, "dv": -0.0130},
                {"azimuth": 300, "dv": -0.0130}, {"azimuth": 330, "dv": -0.0131}, {"azimuth": 360, "dv": -0.0132}
              ]},
              "mark": {"type": "area", "interpolate": "monotone", "color": {"gradient": "linear", "x1": 0, "y1": 1, "x2": 0, "y2": 0, "stops": [
                {"offset": 0, "color": "#00008a"}, {"offset": 0.118, "color": "#0000ff"}, {"offset": 0.249, "color": "#007fff"},
                {"offset": 0.379, "color": "#00ffff"}, {"offset": 0.509, "color": "#7fff7f"}, {"offset": 0.639, "color": "#ffff00"},
                {"offset": 0.769, "color": "#ff7f00"}, {"offset": 0.899, "color": "#ff0000"}, {"offset": 1, "color": "#9c0000"}]}},
              "encoding": {
                "x": {"field": "azimuth", "type": "quantitative", "scale": {"domain": [0, 360], "nice": false}, "axis": {"values": [0, 120, 240, 360], "title": "azimuth / (°)"}},
                "y": {"field": "dv", "type": "quantitative", "scale": {"domain": [-0.0287, -0.0102], "nice": false, "zero": false}, "axis": {"orient": "left", "values": [-0.028, -0.02, -0.012], "format": ".3f", "title": "(Vₛ₂ᴾᴺ − Vₛ₂⁰) / Vₛ₂⁰"}},
                "y2": {"datum": -0.0287}
              }
            },
            {
              "data": {"values": [{"inclination": 0, "v": -0.028}, {"inclination": 180, "v": -0.012}]},
              "mark": {"type": "point", "opacity": 0},
              "encoding": {
                "y": {"field": "inclination", "type": "quantitative", "scale": {"domain": [0, 180], "nice": false}, "axis": {"orient": "right", "values": [0, 90, 180], "title": "inclination / (°)", "titleAngle": 270}},
                "color": {"field": "v", "type": "quantitative",
                  "scale": {"domain": [-0.0289, -0.02668, -0.02445, -0.02223, -0.02, -0.01778, -0.01555, -0.01333, -0.0111], "range": ["#00007f", "#0000ff", "#007fff", "#00ffff", "#7fff7f", "#ffff00", "#ff7f00", "#ff0000", "#7f0000"]},
                  "legend": {"type": "gradient", "orient": "none", "direction": "horizontal", "legendX": 13, "legendY": -53, "gradientLength": 141, "gradientThickness": 9, "values": [-0.028, -0.02, -0.012], "format": ".3f", "title": null, "gradientStrokeColor": "#000", "gradientStrokeWidth": 0.6}}
              }
            }
          ],
          "resolve": {"scale": {"y": "independent"}}
        },
        {
          "width": 210,
          "height": 125,
          "view": {"stroke": null},
          "title": {"text": ["(f) 横波相速度各向异性(物理非线性)", "(f) The shear-wave phase velocity anisotropy", "(physical nonlinearity)"], "offset": 50, "dx": 36},
          "projection": {"type": "orthographic", "scale": 57, "translate": [112, 53]},
          "layer": [
            {
              "data": {"sphere": true},
              "mark": {"type": "geoshape", "fill": "#d8a040", "stroke": null},
              "encoding": {}
            },
            {
              "data": {"name": "sphere"},
              "mark": {"type": "geoshape", "stroke": null},
              "encoding": {
                "color": {"field": "properties.f", "type": "quantitative", "scale": {"scheme": "turbo", "domain": [0.05, 2.45]},
                  "legend": {"type": "gradient", "orient": "none", "legendX": 215, "legendY": -26, "direction": "vertical", "gradientLength": 130, "gradientThickness": 17, "values": [0.5, 1.0, 1.5, 2.0], "format": ".1f", "title": "Aₛ / %", "titlePadding": 6, "gradientStrokeColor": "#000", "gradientStrokeWidth": 0.5}}
              }
            }
          ]
        }
      ]
    }
  ]
}
